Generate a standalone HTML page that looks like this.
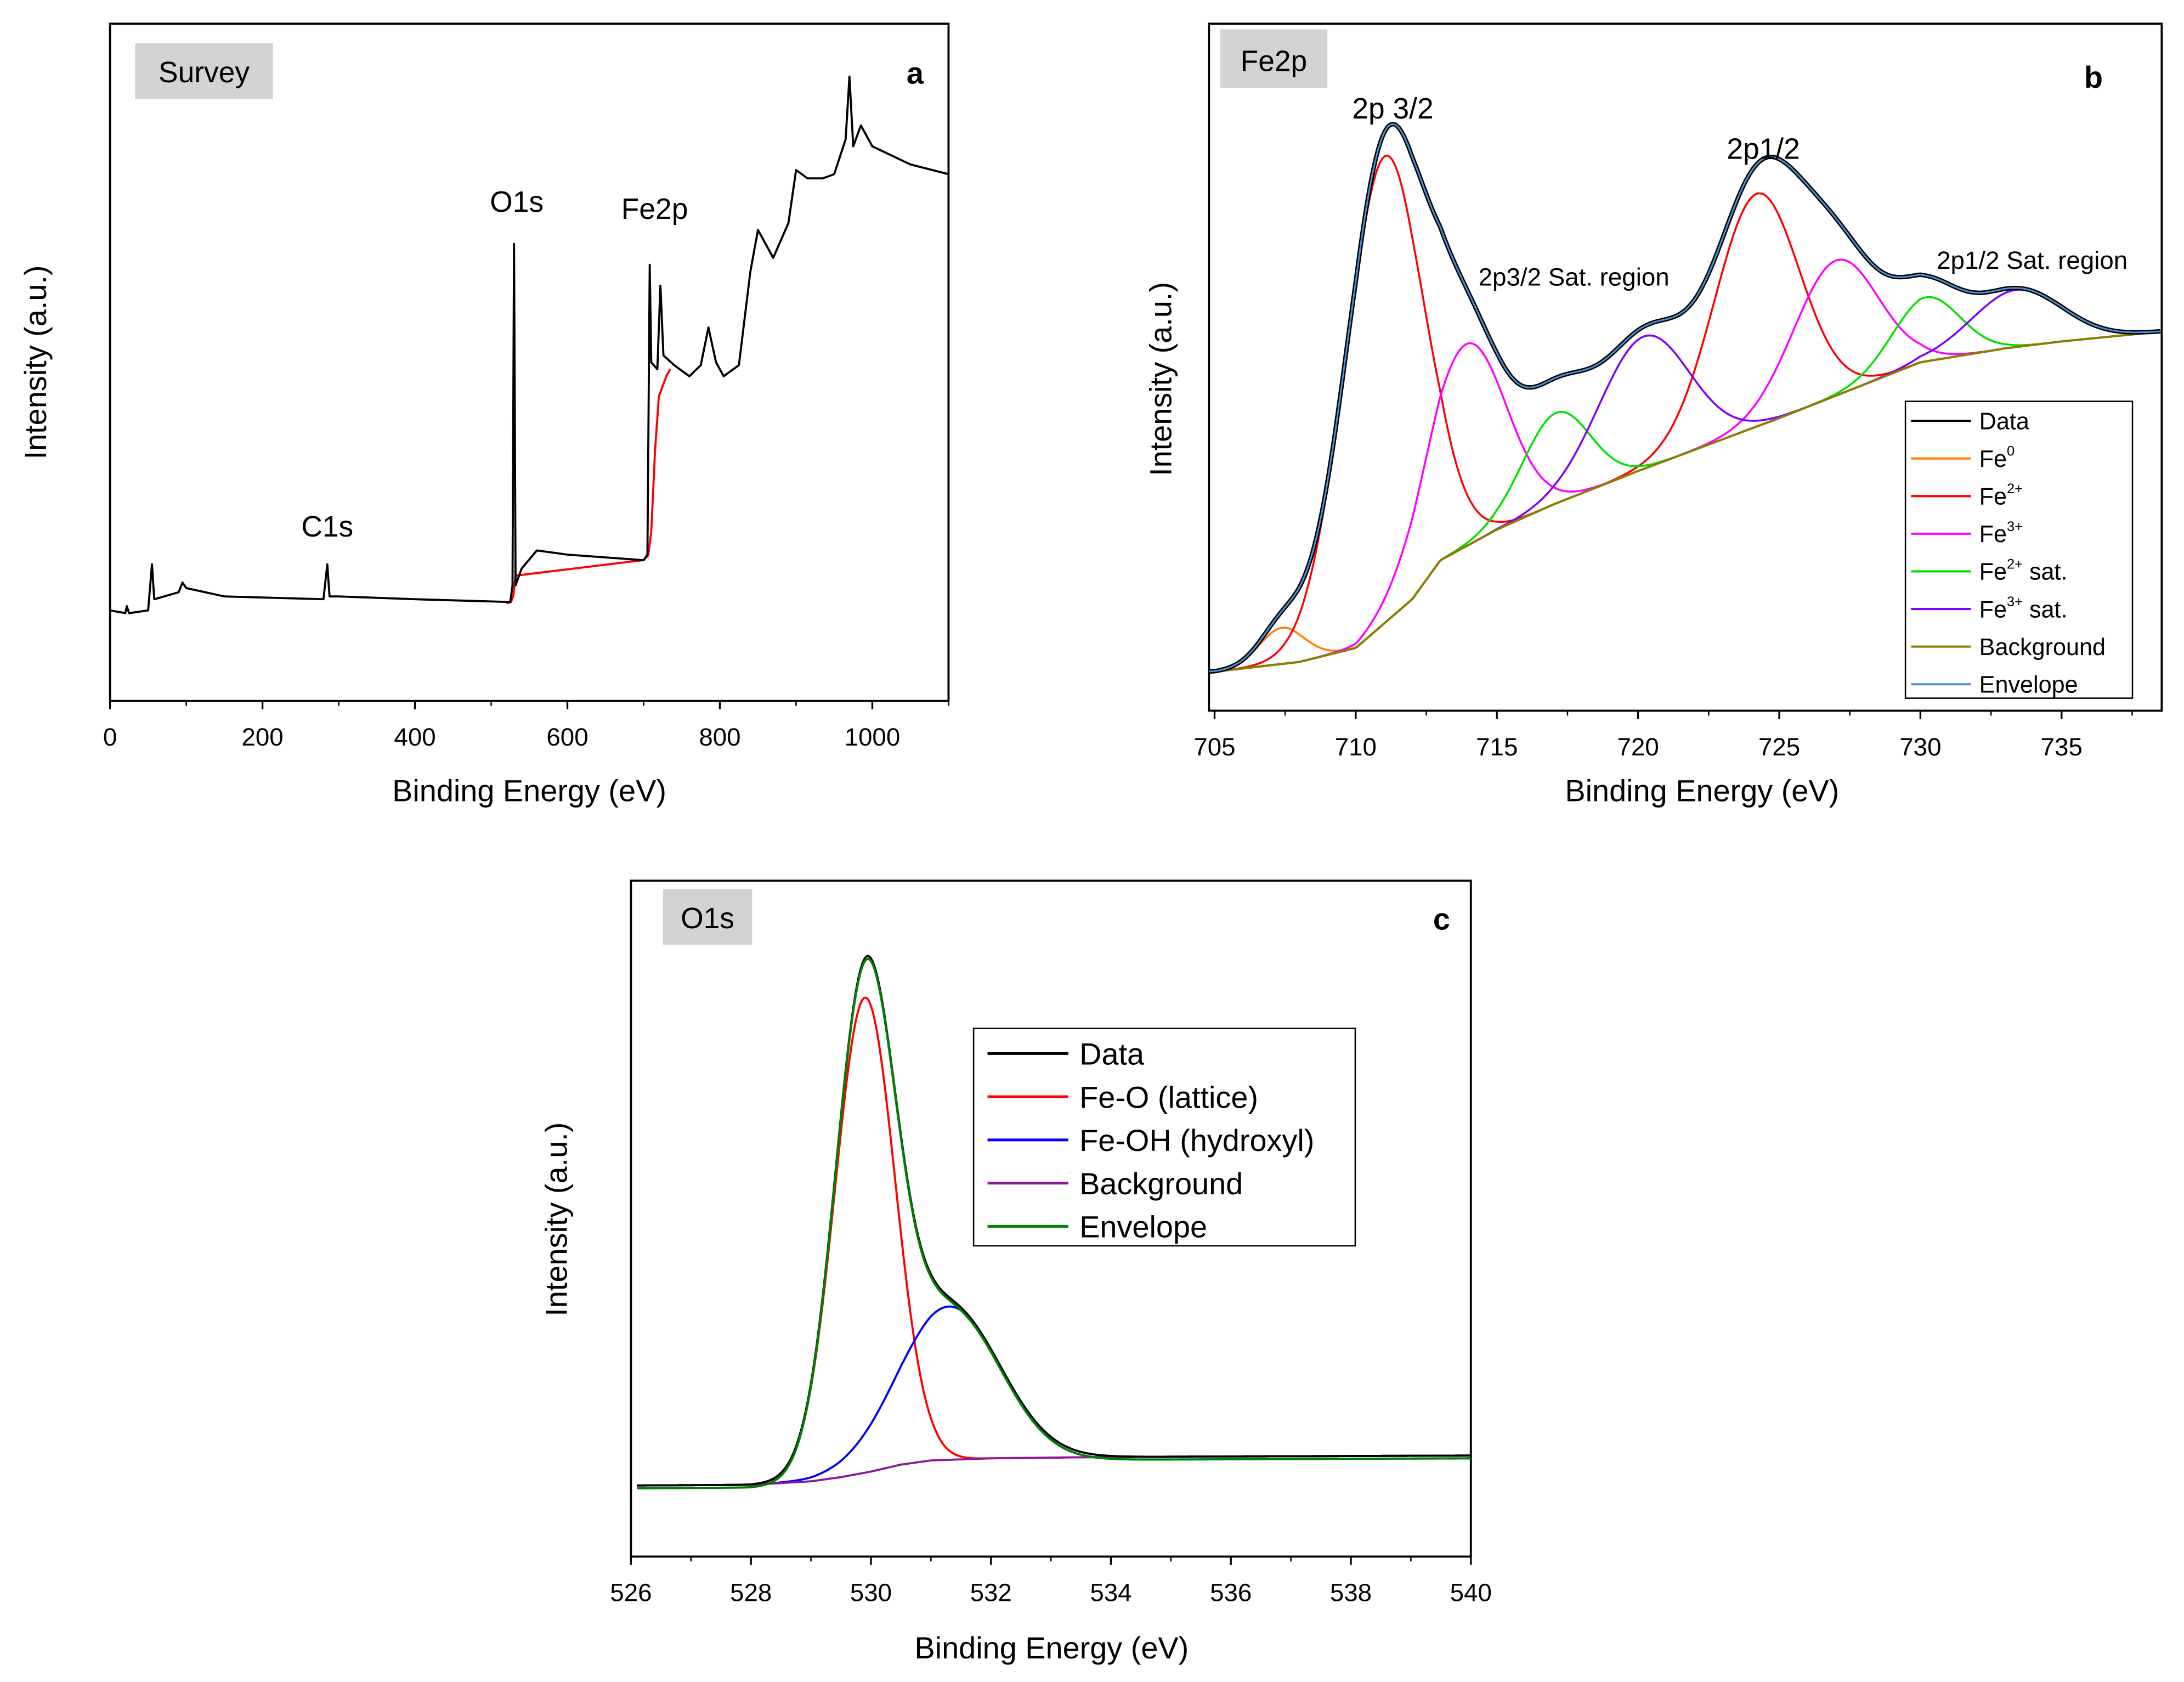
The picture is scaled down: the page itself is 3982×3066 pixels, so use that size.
<!DOCTYPE html>
<html><head><meta charset="utf-8">
<style>
html,body{margin:0;padding:0;background:#fff;}
svg{display:block;font-family:"Liberation Sans",Arial,sans-serif;}
</style></head>
<body>
<svg id="fig" width="3982" height="3066" viewBox="0 0 1568 1207" preserveAspectRatio="none" xmlns="http://www.w3.org/2000/svg">
<rect x="0" y="0" width="1568" height="1207" fill="#fff"/>
<g id="pa"></g>
<g id="pb"></g>
<g id="pc"></g>
</svg>
<script>
// ---------- Survey data ----------
const surveyEV=[0,20,22,25,50,55,58,90,95,100,150,280,285,288,300,400,525,528,530,532,540,560,600,700,705,708,710,718,722,726,740,760,775,785,795,805,825,840,850,870,890,900,915,935,950,965,970,975,985,1000,1050,1100];
const surveyPx=[438,440,435,440,438,405,430,425,418,422,428,430,405,428,428,430,432,420,175,420,408,395,398,402,398,190,260,265,205,255,262,270,262,235,260,270,262,195,165,185,160,122,128,128,125,100,55,105,90,105,118,125];
const surveyI=surveyPx.map(p=>(503-p)/4.86);
const surveyBgEV=[520,526,529,532,700,706,710,715,720,730,735];
const surveyBgI=[14.4,14.6,15.5,18.5,20.8,21.5,25,37,45,48,49];
const surveyTicks=[0,200,400,600,800,1000];
// ---------- Fe2p ----------
const feBgEV=[704.8,705,708,710,712,713,715,717,720,725,730,733,735,738.5];
const feBgI=[28,28,35,45,80,108,130,148,172,210,250,260,265,272];
const feCenters=[707.4,711.0,724.2,713.9,727.0,717.1,730.2,720.2,733.4];
const feHeights=[26,335,167,145,97,65,46,95,41];
const feWidths=[0.8,1.4,1.5,1.4,1.5,1.2,1.2,1.6,1.6];
const feKinds=[0,1,1,2,2,3,3,4,4];
const feColors=["#ff7f00","#ff0000","#ff00ff","#00e000","#8000ff"];
const feTicks=[705,710,715,720,725,730,735];
// ---------- O1s ----------
const oBgEV=[526,528,529,529.5,530,530.5,531,532,534,540];
const oBgI=[0,0.5,3,6,10,15,18,19.5,20.5,21.5];
const oCenters=[529.9,531.3];
const oHeights=[341,110];
const oWidths=[0.5,0.85];
const oTicks=[526,528,530,532,534,536,538,540];

const NS="http://www.w3.org/2000/svg";
function mk(par,tag,attrs,name){const e=document.createElementNS(NS,tag);for(const k in attrs)e.setAttribute(k,attrs[k]);


par.appendChild(e);return e;}
function txt(par,x,y,s,size,name,anchor,extra){const t=mk(par,'text',Object.assign({x:x,y:y,'font-size':size,'text-anchor':anchor||'middle',fill:'#000'},extra||{}),name);t.textContent=s;return t;}
function interp(xs,ys,x){if(x<=xs[0])return ys[0];for(let i=1;i<xs.length;i++){if(x<=xs[i]){const f=(x-xs[i-1])/(xs[i]-xs[i-1]);return ys[i-1]+f*(ys[i]-ys[i-1]);}}return ys[ys.length-1];}
function gauss(x,c,h,w){return h*Math.exp(-0.5*((x-c)/w)**2);}
function axes(g,L,T,R,B,ticks,xs,minor){
 mk(g,'rect',{x:L,y:T,width:R-L,height:B-T,fill:'none',stroke:'#000','stroke-width':1.5},'plot-frame');
 ticks.forEach(v=>{const x=xs(v);mk(g,'line',{x1:x,y1:B,x2:x,y2:B+6,stroke:'#000','stroke-width':1.3},'x-tick');
 txt(g,x,B+32,String(v),18,'x-tick-label');});
 if(minor)minor.forEach(v=>{const x=xs(v);mk(g,'line',{x1:x,y1:B,x2:x,y2:B+3.5,stroke:'#000','stroke-width':1},'x-minor-tick');});
}
function poly(g,pts,color,w,name){mk(g,'polyline',{points:pts.map(p=>p[0].toFixed(2)+','+p[1].toFixed(2)).join(' '),fill:'none',stroke:color,'stroke-width':w,'stroke-linejoin':'round'},name);}
function tagBox(g,x,y,w,h,s,name){mk(g,'rect',{x:x,y:y,width:w,height:h,fill:'#d3d3d3'},name+'-bg');txt(g,x+w/2,y+h-12,s,21,name);}

(function(){const g=document.getElementById('pa');const L=79,T=17,R=681,B=503;
 const xs=v=>L+(v/1100)*(R-L);const ys=I=>503-I*4.86;
 axes(g,L,T,R,B,surveyTicks,xs,[100,300,500,700,900,1100]);
 poly(g,surveyBgEV.map((e,i)=>[xs(e),ys(surveyBgI[i])]),'#ff0000',1.5,'survey-background');
 poly(g,surveyEV.map((e,i)=>[xs(e),ys(surveyI[i])]),'#000',1.5,'survey-data');
 tagBox(g,97,31,99,40,'Survey','survey-tag');
 txt(g,657,60,'a',22,'panel-label-a','middle',{'font-weight':'bold'});
 txt(g,371,152,'O1s',21,'peak-label-o1s');txt(g,470,157,'Fe2p',21,'peak-label-fe2p');txt(g,235,385,'C1s',21,'peak-label-c1s');
 txt(g,380,575,'Binding Energy (eV)',22,'x-axis-title');
 txt(g,33,260,'Intensity (a.u.)',22,'y-axis-title','middle',{transform:'rotate(-90 33 260)'});
})();

(function(){const g=document.getElementById('pb');const L=868,T=17,R=1552,B=510;
 const xs=v=>872+(v-705)*20.27;const ys=I=>510-I;
 axes(g,L,T,R,B,feTicks,xs,[707.5,712.5,717.5,722.5,727.5,732.5,737.5]);
 const N=400,eGrid=[];for(let i=0;i<=N;i++)eGrid.push(704.8+(738.5-704.8)*i/N);
 const bg=eGrid.map(e=>interp(feBgEV,feBgI,e));
 feCenters.forEach((c,k)=>{const pts=eGrid.map((e,i)=>[xs(e),ys(bg[i]+gauss(e,c,feHeights[k],feWidths[k]))]);
  poly(g,pts,feColors[feKinds[k]],1.4,'component-'+feKinds[k]+'-'+k);});
 poly(g,eGrid.map((e,i)=>[xs(e),ys(bg[i])]),'#8b7d00',1.6,'background-line');
 const env=eGrid.map((e,i)=>bg[i]+feCenters.reduce((s,c,k)=>s+gauss(e,c,feHeights[k],feWidths[k]),0));
 poly(g,eGrid.map((e,i)=>[xs(e),ys(env[i])]),'#000',3.2,'data-line');
 poly(g,eGrid.map((e,i)=>[xs(e),ys(env[i])]),'#4a90d9',1.2,'envelope-line');
 tagBox(g,876,21,77,42,'Fe2p','fe2p-tag');
 txt(g,1503,63,'b',22,'panel-label-b','middle',{'font-weight':'bold'});
 txt(g,1000,85,'2p 3/2',21,'label-2p32');txt(g,1266,114,'2p1/2',21,'label-2p12');
 txt(g,1130,205,'2p3/2 Sat. region',18,'label-sat-32');txt(g,1459,193,'2p1/2 Sat. region',18,'label-sat-12');
 txt(g,1222,575,'Binding Energy (eV)',22,'x-axis-title');
 txt(g,841,272,'Intensity (a.u.)',22,'y-axis-title','middle',{transform:'rotate(-90 841 272)'});
 const lg=mk(g,'g',{},'legend');mk(lg,'rect',{x:1368,y:288,width:163,height:213,fill:'#fff',stroke:'#000','stroke-width':1},'legend-box');
 const labels=[['Data','',''],['Fe','0',''],['Fe','2+',''],['Fe','3+',''],['Fe','2+',' sat.'],['Fe','3+',' sat.'],['Background','',''],['Envelope','','']];
 const cols=['#000','#ff7f00','#ff0000','#ff00ff','#00e000','#8000ff','#8b7d00','#4a90d9'];
 labels.forEach((l,i)=>{const y=302+i*27;mk(lg,'line',{x1:1372,y1:y,x2:1415,y2:y,stroke:cols[i],'stroke-width':1.6},'legend-swatch');
  const t=mk(lg,'text',{x:1421,y:y+6,'font-size':17,fill:'#000'},'legend-entry');t.textContent=l[0];
  if(l[1]){const s=document.createElementNS(NS,'tspan');s.setAttribute('font-size',10);s.setAttribute('dy',-8);s.textContent=l[1];t.appendChild(s);}
  if(l[2]){const s=document.createElementNS(NS,'tspan');s.setAttribute('dy',8);s.textContent=l[2];t.appendChild(s);}});
})();

(function(){const g=document.getElementById('pc');const L=453,T=632,R=1056,B=1117;
 const xs=v=>L+(v-526)/14*(R-L);const ys=I=>1066-I;
 axes(g,L,T,R,B,oTicks,xs,[527,529,531,533,535,537,539]);
 const N=400,eGrid=[];for(let i=0;i<=N;i++)eGrid.push(526.1+(540-526.1)*i/N);
 const bg=eGrid.map(e=>interp(oBgEV,oBgI,e));
 const cc=['#ff0000','#0000ff'];
 oCenters.forEach((c,k)=>poly(g,eGrid.map((e,i)=>[xs(e),ys(bg[i]+gauss(e,c,oHeights[k],oWidths[k]))]),cc[k],1.5,k?'hydroxyl-line':'lattice-line'));
 poly(g,eGrid.map((e,i)=>[xs(e),ys(bg[i])]),'#8b1a9b',1.5,'background-line');
 const env=eGrid.map((e,i)=>bg[i]+oCenters.reduce((s,c,k)=>s+gauss(e,c,oHeights[k],oWidths[k]),0));
 poly(g,eGrid.map((e,i)=>[xs(e),ys(env[i])]),'#000',1.5,'data-line');
 poly(g,eGrid.map((e,i)=>[xs(e),ys(env[i]-2)]),'#008000',1.6,'envelope-line');
 tagBox(g,476,638,64,40,'O1s','o1s-tag');
 txt(g,1035,667,'c',22,'panel-label-c','middle',{'font-weight':'bold'});
 txt(g,755,1190,'Binding Energy (eV)',22,'x-axis-title');
 txt(g,407,875,'Intensity (a.u.)',22,'y-axis-title','middle',{transform:'rotate(-90 407 875)'});
 const lg=mk(g,'g',{},'legend');mk(lg,'rect',{x:699,y:738,width:274,height:156,fill:'#fff',stroke:'#000','stroke-width':1},'legend-box');
 const labs=['Data','Fe-O (lattice)','Fe-OH (hydroxyl)','Background','Envelope'];const cols=['#000','#ff0000','#0000ff','#8b1a9b','#008000'];
 labs.forEach((l,i)=>{const y=756+i*31;mk(lg,'line',{x1:709,y1:y,x2:767,y2:y,stroke:cols[i],'stroke-width':2},'legend-swatch');
  txt(lg,775,y+8,l,22,'legend-entry','start');});
})();
</script>
</body></html>
